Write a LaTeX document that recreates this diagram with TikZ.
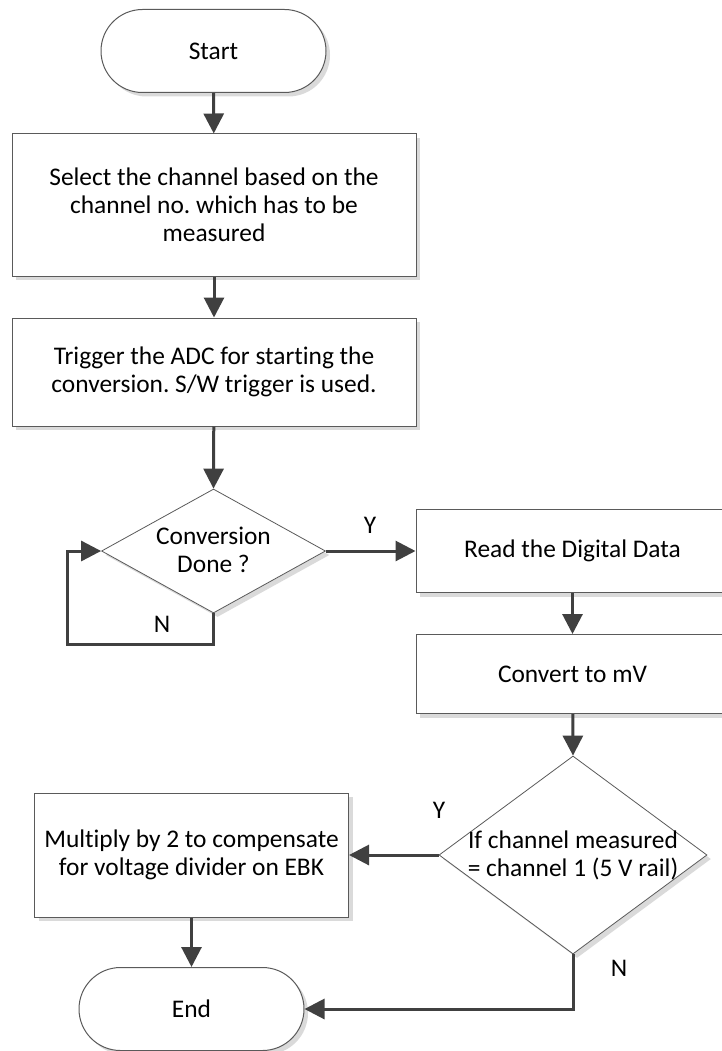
\documentclass[tikz,border=0pt]{standalone}
\usepackage{fontspec}
\setmainfont[Ligatures={NoCommon,NoRare}]{Carlito}
\usetikzlibrary{arrows.meta,shapes.geometric,shadows}
\definecolor{flowline}{HTML}{404040}
\definecolor{boxedge}{HTML}{5A5A5A}
\definecolor{shade}{HTML}{DADADA}
\tikzset{
  every node/.style={font=\fontsize{25.4}{28}\selectfont},
  shadowed/.style={drop shadow={shadow xshift=4pt, shadow yshift=-4pt, fill=shade, opacity=1}},
  procbox/.style={draw=boxedge, line width=1pt, fill=white, shadowed, rectangle,
    inner sep=0pt, align=center},
  terminal/.style={procbox, rounded corners=41.5pt, minimum width=225pt, minimum height=83pt},
  decision/.style={draw=boxedge, line width=0.8pt, fill=white, shadowed, diamond,
    inner sep=0pt},
  flow/.style={draw=flowline, line width=3pt, -{Triangle[length=20pt,width=20pt]}},
  answer/.style={inner sep=0pt},
}
\begin{document}
\frenchspacing
\begin{tikzpicture}[x=1pt, y=-1pt]
\useasboundingbox (0,0) rectangle (722,1051);

% process steps
\node[terminal] (start) at (213.5,51) {Start};
\node[procbox, minimum width=404pt, minimum height=142pt] (select) at (214,205)
  {Select the channel based on the\\channel no. which has to be\\measured};
\node[procbox, minimum width=404pt, minimum height=108pt] (trigger) at (214,372)
  {Trigger the ADC for starting the\\conversion. S/W trigger is used.};
\node[decision, minimum width=224pt, minimum height=124pt] (done) at (213.5,551) {};
\node[inner sep=0pt, align=center] (donetext) at (213.5,550) {Conversion\\Done ?};
\node[procbox, minimum width=313pt, minimum height=83pt] (read) at (572.5,551)
  {Read the Digital Data};
\node[procbox, minimum width=313pt, minimum height=79pt] (convert) at (572.5,674)
  {Convert to mV};
\node[decision, minimum width=268pt, minimum height=198pt] (check) at (573,855) {};
\node[inner sep=0pt, align=center] (checktext) at (573,855)
  {If channel measured\\= channel 1 (5 V rail)};
\node[procbox, minimum width=314pt, minimum height=124pt] (multiply) at (191.5,855)
  {Multiply by 2 to compensate\\for voltage divider on EBK};
\node[terminal] (finish) at (191.5,1009) {End};

% loop-back corner for the polling branch
\coordinate (loop) at (67,644);

% connectors
\draw[flow] (start) -- (select);
\draw[flow] (select) -- (trigger);
\draw[flow] (trigger) -- (done.north);
\draw[flow] (done.east) -- (read.west);
\draw[flow] (done.south) |- (loop) |- (done.west);
\draw[flow] (read) -- (convert);
\draw[flow] (convert) -- (check.north);
\draw[flow] (check.west) -- (multiply.east);
\draw[flow] (multiply) -- (finish);
\draw[flow] (check.south) |- (finish.east);

% branch labels
\node[answer] (y1) at (370,525) {Y};
\node[answer] (n1) at (162,624) {N};
\node[answer] (y2) at (439,810) {Y};
\node[answer] (n2) at (619,968) {N};
\end{tikzpicture}
\end{document}
